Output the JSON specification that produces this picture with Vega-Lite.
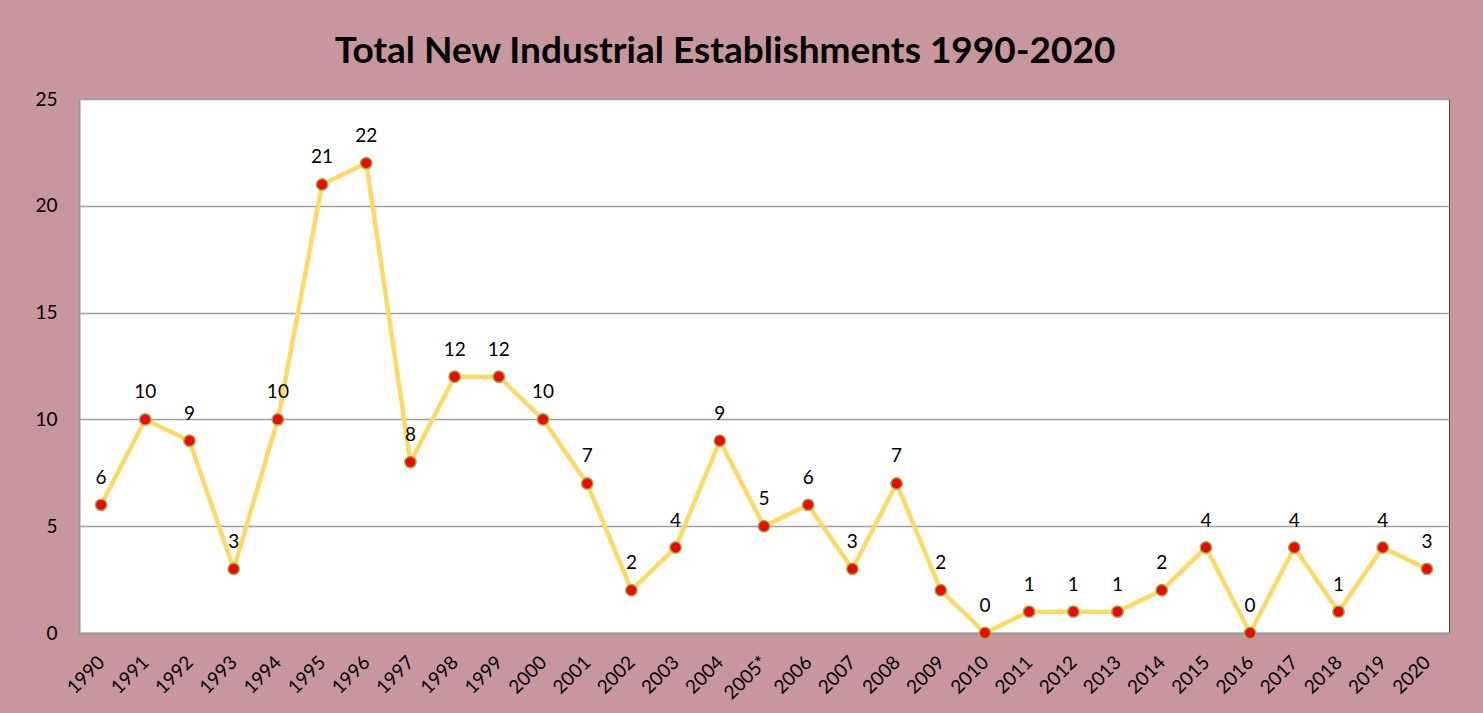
{
  "$schema": "https://vega.github.io/schema/vega-lite/v6.json",
  "width": 1370,
  "height": 534,
  "autosize": {"type": "none"},
  "padding": {"left": 79, "top": 99, "right": 34, "bottom": 80},
  "background": "#C8979E",
  "title": {
    "text": "Total New Industrial Establishments 1990-2020",
    "font": "Lato",
    "fontSize": 37,
    "fontWeight": "bold",
    "color": "#000000",
    "anchor": "middle",
    "dx": -39,
    "dy": 42,
    "baseline": "alphabetic",
    "offset": 32
  },
  "config": {
    "view": {"fill": "#FFFFFF", "stroke": "#404040", "strokeWidth": 1},
    "font": "Lato"
  },
  "data": {
    "values": [
      {"year": "1990", "value": 6},
      {"year": "1991", "value": 10},
      {"year": "1992", "value": 9},
      {"year": "1993", "value": 3},
      {"year": "1994", "value": 10},
      {"year": "1995", "value": 21},
      {"year": "1996", "value": 22},
      {"year": "1997", "value": 8},
      {"year": "1998", "value": 12},
      {"year": "1999", "value": 12},
      {"year": "2000", "value": 10},
      {"year": "2001", "value": 7},
      {"year": "2002", "value": 2},
      {"year": "2003", "value": 4},
      {"year": "2004", "value": 9},
      {"year": "2005*", "value": 5},
      {"year": "2006", "value": 6},
      {"year": "2007", "value": 3},
      {"year": "2008", "value": 7},
      {"year": "2009", "value": 2},
      {"year": "2010", "value": 0},
      {"year": "2011", "value": 1},
      {"year": "2012", "value": 1},
      {"year": "2013", "value": 1},
      {"year": "2014", "value": 2},
      {"year": "2015", "value": 4},
      {"year": "2016", "value": 0},
      {"year": "2017", "value": 4},
      {"year": "2018", "value": 1},
      {"year": "2019", "value": 4},
      {"year": "2020", "value": 3}
    ]
  },
  "encoding": {
    "x": {
      "field": "year",
      "type": "ordinal",
      "sort": null,
      "scale": {"type": "point", "padding": 0.5},
      "axis": {
        "title": null,
        "labelAngle": -45,
        "labelAlign": "right",
        "labelBaseline": "middle",
        "labelFont": "Lato",
        "labelFontSize": 19,
        "labelColor": "#000000",
        "labelPadding": 26,
        "ticks": false,
        "grid": false,
        "domainColor": "#999999",
        "domainWidth": 2
      }
    },
    "y": {
      "field": "value",
      "type": "quantitative",
      "scale": {"domain": [0, 25], "nice": false},
      "axis": {
        "title": null,
        "values": [0, 5, 10, 15, 20, 25],
        "labelFont": "Lato",
        "labelFontSize": 19,
        "labelColor": "#000000",
        "labelPadding": 22,
        "ticks": false,
        "grid": true,
        "gridColor": "#A0A0A0",
        "gridWidth": 1.5,
        "domainColor": "#999999",
        "domainWidth": 2
      }
    }
  },
  "layer": [
    {
      "mark": {"type": "line", "color": "#FFD966", "strokeWidth": 4.5}
    },
    {
      "mark": {"type": "point", "shape": "circle", "filled": true, "fill": "#FF0000", "stroke": "#8DB553", "strokeWidth": 1.5, "size": 130, "opacity": 1}
    },
    {
      "mark": {"type": "text", "font": "Lato", "fontSize": 19, "color": "#000000", "baseline": "middle", "dy": -27},
      "encoding": {"text": {"field": "value", "type": "quantitative"}}
    }
  ]
}
